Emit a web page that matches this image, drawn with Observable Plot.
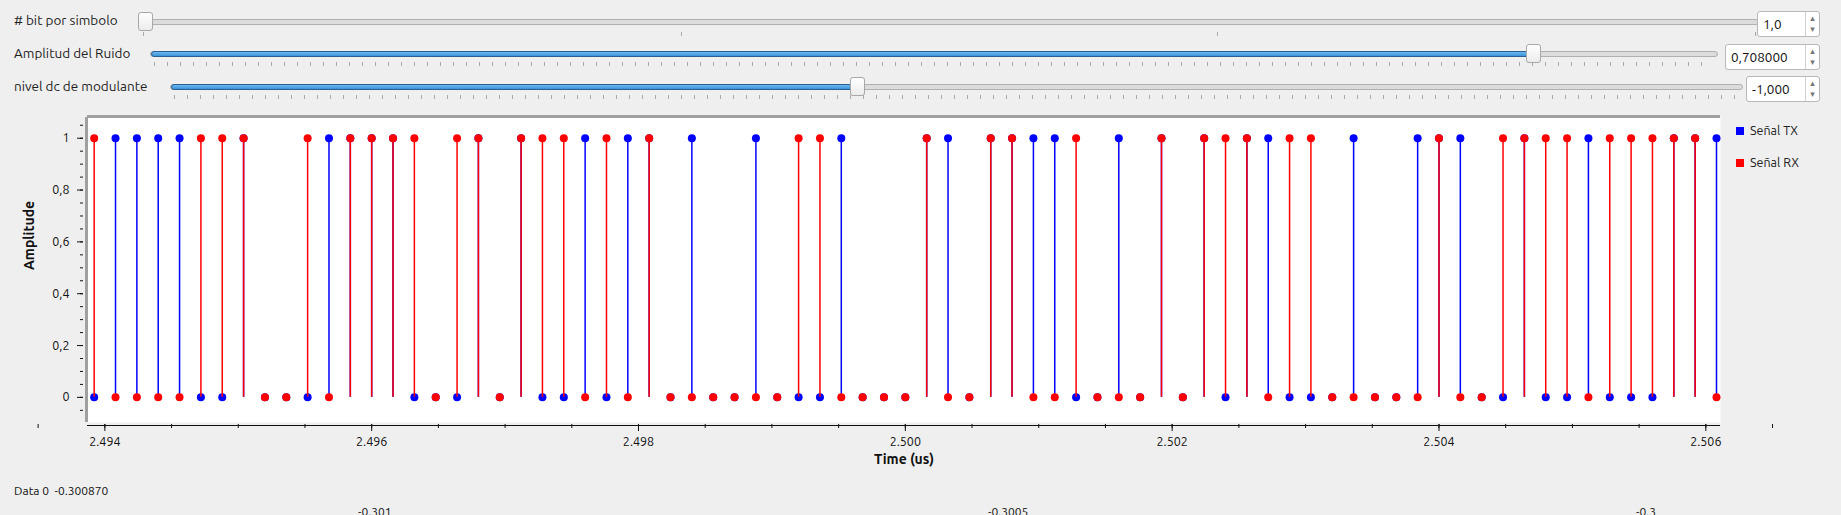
<!DOCTYPE html>
<html lang="es">
<head>
<meta charset="UTF-8">
<script src="https://cdn.jsdelivr.net/npm/d3@7"></script>
<script src="https://cdn.jsdelivr.net/npm/@observablehq/plot@0.6"></script>
<style>
  body { margin: 0; background: #efefef; font-family: Ubuntu, "Noto Sans", "DejaVu Sans", sans-serif; width: 1841px; height: 515px; overflow: hidden; position: relative; }
  .lbl { position: absolute; font-size: 13.5px; color: #1f1f1f; }
  .track { position: absolute; height: 4px; border: 1px solid #b0b0b0; border-radius: 3px; background: #dcdcdc; }
  .fill { position: absolute; left: 0; top: -1px; height: 4px; border: 1px solid #2a5f8f; border-radius: 3px; background: linear-gradient(#6cb8f0, #3a94d8); }
  .handle { position: absolute; width: 13px; height: 17px; top: -8px; margin-left: -7px; background: linear-gradient(#ffffff, #ececec); border: 1px solid #a8a8a8; border-radius: 3px; }
  .ticks { position: absolute; height: 4px; background: repeating-linear-gradient(90deg, #a8a8a8 0 1px, transparent 1px 13px); }
  .spin { position: absolute; background: #fff; border: 1px solid #b8b8b8; border-radius: 3px; font-size: 13.5px; color: #111; box-sizing: border-box; padding: 4px 0 0 5px; }
  .spin::after { content: "▴\A▾"; white-space: pre; position: absolute; right: 0; top: 0; bottom: 0; width: 13px; border-left: 1px solid #d0d0d0; font-size: 9px; line-height: 11px; color: #777; text-align: center; padding-top: 1px; }
  .leg { position: absolute; font-size: 12.5px; color: #222; }
  .leg span { display: inline-block; width: 8px; height: 8px; margin-right: 6px; }
  #plot { position: absolute; left: 0; top: 0; }
  .foot { position: absolute; font-size: 12px; color: #111; }
</style>
</head>
<body>
<div class="lbl" style="left:14px;top:12px"># bit por simbolo</div>
<div class="track" style="left:141px;top:19px;width:1616px"><div class="handle" style="left:3px"></div></div>
<div class="ticks" style="left:143px;top:32px;width:1616px;background:none">
  <div style="position:absolute;left:0;width:1px;height:4px;background:#a8a8a8"></div>
  <div style="position:absolute;left:538px;width:1px;height:4px;background:#a8a8a8"></div>
  <div style="position:absolute;left:1074px;width:1px;height:4px;background:#a8a8a8"></div>
  <div style="position:absolute;left:1612px;width:1px;height:4px;background:#a8a8a8"></div>
</div>
<div class="spin" style="left:1757px;top:11px;width:63px;height:26px">1,0</div>

<div class="lbl" style="left:14px;top:45px">Amplitud del Ruido</div>
<div class="track" style="left:150px;top:51px;width:1566px"><div class="fill" style="width:1382px"></div><div class="handle" style="left:1382px"></div></div>
<div class="ticks" style="left:154px;top:62px;width:1560px"></div>
<div class="spin" style="left:1725px;top:44px;width:95px;height:26px">0,708000</div>

<div class="lbl" style="left:14px;top:78px">nivel dc de modulante</div>
<div class="track" style="left:170px;top:84px;width:1571px"><div class="fill" style="width:686px"></div><div class="handle" style="left:686px"></div></div>
<div class="ticks" style="left:174px;top:95px;width:1565px"></div>
<div class="spin" style="left:1746px;top:76px;width:74px;height:26px">-1,000</div>

<div id="plot"></div>
<div class="leg" style="left:1736px;top:123px"><span style="background:#0000ff"></span>Señal TX</div>
<div class="leg" style="left:1736px;top:155px"><span style="background:#ff0000"></span>Señal RX</div>

<div class="foot" style="left:14px;top:484px">Data 0 &nbsp;-0.300870</div>
<div class="foot" style="left:358px;top:505px">-0.301</div>
<div class="foot" style="left:988px;top:505px">-0.3005</div>
<div class="foot" style="left:1636px;top:505px">-0.3</div>

<script>
// muestras (us) y valores de bits
const t0 = 2.49392;
const dt = 0.00016;
const tx = [0,1,1,1,1,0,0,1,0,0, 0,1,1,1,1,0,0,0,1,0, 1,0,0,1,0,1,1,0,1,0, 0,1,0,0,0,1,0,0,0,1, 1,0,1,1,1,1,0,0,1,0, 1,0,1,0,1,1,0,0,0,1, 0,0,1,1,1,0,0,1,0,0, 1,0,0,0,1,1,1];
const rx = [1,0,0,0,0,1,1,1,0,0, 1,0,1,1,1,1,0,1,1,0, 1,1,1,0,1,0,1,0,0,0, 0,0,0,1,1,0,0,0,0,1, 0,0,1,1,0,0,1,0,0,0, 1,0,1,1,1,0,1,1,0,0, 0,0,0,1,0,0,1,1,1,1, 0,1,1,1,1,1,0];
const xTicks = [2.494, 2.496, 2.498, 2.500, 2.502, 2.504, 2.506];
const yTicks = [0, 0.2, 0.4, 0.6, 0.8, 1];

const txData = tx.map((v, i) => ({t: t0 + i * dt, v}));
const rxData = rx.map((v, i) => ({t: t0 + i * dt, v}));
const minorX = d3.range(2.4935, 2.50651, 0.0005);
const minorY = d3.range(-0.05, 1.051, 0.05);
const comma = d => String(d).replace(".", ",");
const xMin = 2.49387, xMax = 2.50611, yMin = -0.097, yMax = 1.08;

const plot = Plot.plot({
  width: 1841,
  height: 470,
  marginLeft: 87,
  marginRight: 121,
  marginTop: 117,
  marginBottom: 48,
  style: {background: "transparent", fontFamily: "Ubuntu, 'Noto Sans', sans-serif", fontSize: "12px", color: "#111"},
  x: {domain: [xMin, xMax]},
  y: {domain: [yMin, yMax]},
  marks: [
    Plot.frame({fill: "white", stroke: "none"}),
    Plot.ruleY([yMax], {stroke: "#a0a0a0", strokeWidth: 3, dy: -1}),
    Plot.ruleX([xMin], {stroke: "#a0a0a0", strokeWidth: 3, dx: -1}),
    Plot.axisX({ticks: xTicks, tickFormat: d3.format(".3f"), tickSize: 7, tickPadding: 6, fontSize: 12.5, label: null, dy: 2}),
    Plot.axisX({ticks: minorX, tickSize: 4, text: null, label: null, dy: 2}),
    Plot.axisY({ticks: yTicks, tickFormat: comma, tickSize: 6, tickPadding: 8, fontSize: 12.5, label: null, dx: -4}),
    Plot.axisY({ticks: minorY, tickSize: 3, text: null, label: null, dx: -4}),
    Plot.ruleY([yMin], {stroke: "#111", dy: 3}),
    Plot.ruleX(txData, {x: "t", y1: 0, y2: "v", stroke: "#0000ff", strokeWidth: 1.5}),
    Plot.dot(txData, {x: "t", y: "v", r: 4, fill: "#0000ff"}),
    Plot.ruleX(rxData, {x: "t", y1: 0, y2: "v", stroke: "#ff0000", strokeWidth: 1.5}),
    Plot.dot(rxData, {x: "t", y: "v", r: 4, fill: "#ff0000"}),
    Plot.text(["Time (us)"], {frameAnchor: "bottom", dy: 41, fontWeight: "bold", fontSize: 14}),
    Plot.text(["Amplitude"], {frameAnchor: "left", dx: -58, rotate: -90, fontWeight: "bold", fontSize: 14})
  ]
});
document.getElementById("plot").append(plot);
</script>
</body>
</html>
